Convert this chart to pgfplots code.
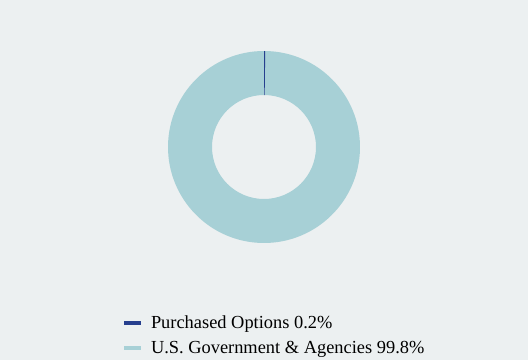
\documentclass[border=0pt]{standalone}
\usepackage{pgfplots}
\usepackage{pgfplotstable}
\pgfplotsset{compat=1.18}
\usepackage{fontspec}
\setmainfont{Liberation Serif}
\usetikzlibrary{backgrounds}
\definecolor{bgcol}{HTML}{ECF0F1}
\definecolor{cGov}{HTML}{A7D0D6}
\definecolor{cOpt}{HTML}{263F8E}

\pgfplotstableread{
label value
Options 0.2
Gov 99.8
}\datatable

\pgfplotstablegetelem{0}{value}\of\datatable
\let\vOpt\pgfplotsretval
\pgfplotstablegetelem{1}{value}\of\datatable
\let\vGov\pgfplotsretval
% angles: start at 12 o'clock, go clockwise
\pgfmathsetmacro\aA{90}
\pgfmathsetmacro\aB{90-3.6*\vOpt}
\pgfmathsetmacro\aC{\aB-3.6*\vGov}

\begin{document}
\begin{tikzpicture}[show background rectangle,
  background rectangle/.style={fill=bgcol,draw=none},
  inner frame sep=0pt]
\begin{axis}[
  width=528bp, height=360bp, scale only axis,
  xmin=0, xmax=528, ymin=0, ymax=360,
  hide axis, clip=false,
  legend style={draw=none, fill=none, at={(axis cs:124,46)}, anchor=north west,
    inner sep=0pt, outer sep=0pt,
    font=\fontsize{18.4bp}{22bp}\selectfont,
    row sep=7bp,
    nodes={inner ysep=2bp, inner xsep=0pt},
    /tikz/every odd column/.append style={column sep=10bp}},
  legend cell align=left,
]
\path (axis cs:0,0) rectangle (axis cs:528,360);
\fill[cGov, shift={(axis cs:264,213)}] (\aB:96bp) arc[start angle=\aB, end angle=\aC, radius=96bp]
   -- (\aC:52bp) arc[start angle=\aC, end angle=\aB, radius=52bp] -- cycle;
\fill[cOpt, shift={(axis cs:264,213)}] (\aA:96bp) arc[start angle=\aA, end angle=\aB, radius=96bp]
   -- (\aB:52bp) arc[start angle=\aB, end angle=\aA, radius=52bp] -- cycle;
\addlegendimage{fill=cOpt, draw=none, legend image code/.code={\fill (0bp,-2bp) rectangle (17bp,2bp);}}
\addlegendentry{Purchased Options 0.2\%}
\addlegendimage{fill=cGov, draw=none, legend image code/.code={\fill (0bp,-2bp) rectangle (17bp,2bp);}}
\addlegendentry{U.S. Government \& Agencies 99.8\%}
\end{axis}
\end{tikzpicture}
\end{document}
